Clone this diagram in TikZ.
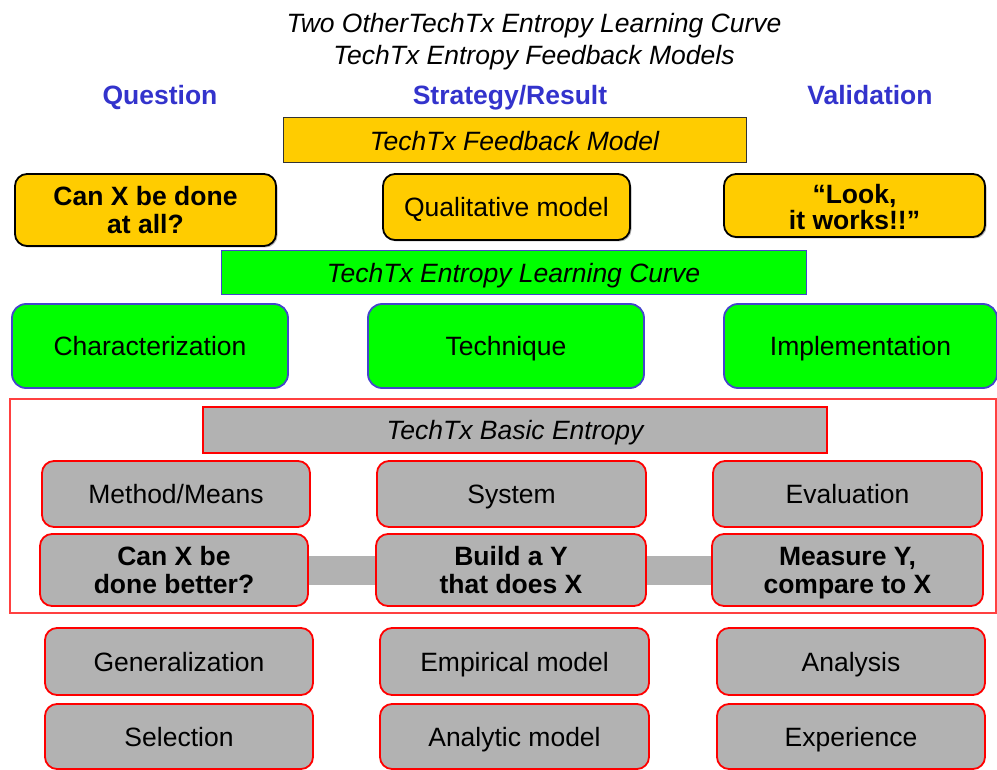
\documentclass[tikz,border=0pt]{standalone}
\usepackage{fontspec}
\setmainfont{Liberation Sans}
\usetikzlibrary{shadows}
\definecolor{fbyellow}{RGB}{255,204,0}
\definecolor{lcgreen}{RGB}{0,255,0}
\definecolor{lcblue}{RGB}{68,68,204}
\definecolor{hdblue}{RGB}{51,51,204}
\definecolor{begray}{RGB}{178,178,178}
\tikzstyle{txt} = [font=\fontsize{26.5}{28}\selectfont, align=center, inner sep=0pt, text depth=0pt]
\tikzstyle{heading} = [txt, 
font=\fontsize{26.5}{28}\selectfont\bfseries, 
text=hdblue, anchor=base]
\tikzstyle{fbbar} = [txt, rectangle, 
draw=black!80, line width=1pt, 
fill=fbyellow, 
font=\fontsize{26.5}{28}\selectfont\itshape]
\tikzstyle{fbbox} = [txt, rectangle, rounded corners=12pt, 
draw=black, line width=1.8pt, 
fill=fbyellow, 
drop shadow={shadow xshift=1.5pt, shadow yshift=-1.5pt, fill=black!55}]
\tikzstyle{lcbar} = [txt, rectangle, 
draw=lcblue, line width=1pt, 
fill=lcgreen, 
font=\fontsize{26.5}{28}\selectfont\itshape]
\tikzstyle{lcbox} = [txt, rectangle, rounded corners=14pt, 
draw=lcblue, line width=1.8pt, 
fill=lcgreen]
\tikzstyle{bebar} = [txt, rectangle, 
draw=red, line width=1.5pt, 
fill=begray, 
font=\fontsize{26.5}{28}\selectfont\itshape]
\tikzstyle{bebox} = [txt, rectangle, rounded corners=12pt, 
draw=red, line width=1.8pt, 
fill=begray]
\tikzstyle{band} = [begray, line width=29pt]
\begin{document}
\begin{tikzpicture}[x=1pt, y=-1pt]
  \useasboundingbox (0,0) rectangle (997,770);
  \node (title) [txt, font=\fontsize{26.5}{32}\selectfont\itshape] at (534,39) {Two OtherTechTx Entropy Learning Curve\\TechTx Entropy Feedback Models};
  \node (hq) [heading] at (160,105) {Question};
  \node (hs) [heading] at (510,105) {Strategy/Result};
  \node (hv) [heading] at (870,105) {Validation};

  % feedback model
  \node (fbm) [fbbar, minimum width=463, minimum height=45] at (514.5,140.5) {TechTx Feedback Model};
  \node (fbq) [fbbox, minimum width=261, minimum height=72, font=\fontsize{26.5}{28}\selectfont\bfseries] at (145.5,210) {Can X be done\\at all?};
  \node (fbs) [fbbox, minimum width=247, minimum height=66] at (506.5,207) {Qualitative model};
  \node (fbv) [fbbox, minimum width=261, minimum height=63, font=\fontsize{26.5}{26}\selectfont\bfseries] at (854.5,205.5) {\raisebox{-3.5pt}{``Look,}\\\raisebox{-3.5pt}{it works!!''}};

  % learning curve
  \node (lcm) [lcbar, minimum width=585, minimum height=44] at (513.5,273) {TechTx Entropy Learning Curve};
  \node (lcq) [lcbox, minimum width=276, minimum height=84] at (150,346) {Characterization};
  \node (lcs) [lcbox, minimum width=276, minimum height=84] at (506,346) {Technique};
  \node (lcv) [lcbox, minimum width=273, minimum height=84] at (860.5,346) {Implementation};

  % basic entropy
  \draw [red!75, line width=1.2pt] (10,399) rectangle (996,613);
  \node (bem) [bebar, minimum width=624, minimum height=46] at (515,430) {TechTx Basic Entropy};
  \node (meq) [bebox, minimum width=268, minimum height=66] at (176,494) {Method/Means};
  \node (mes) [bebox, minimum width=269, minimum height=66] at (511.5,494) {System};
  \node (mev) [bebox, minimum width=269, minimum height=66] at (847.5,494) {Evaluation};
  \node (beq) [bebox, minimum width=268, minimum height=72, font=\fontsize{26.5}{28}\selectfont\bfseries] at (174,570) {Can X be\\done better?};
  \node (bes) [bebox, minimum width=270, minimum height=72, font=\fontsize{26.5}{28}\selectfont\bfseries] at (511,570) {Build a Y\\that does X};
  \node (bev) [bebox, minimum width=271, minimum height=72, font=\fontsize{26.5}{28}\selectfont\bfseries] at (847.5,570) {Measure Y,\\compare to X};
  \draw [band] (beq) -- (bes);
  \draw [band] (bes) -- (bev);

  % bottom rows
  \node (gnq) [bebox, minimum width=268, minimum height=67] at (179,661.5) {Generalization};
  \node (gns) [bebox, minimum width=269, minimum height=67] at (514.5,661.5) {Empirical model};
  \node (gnv) [bebox, minimum width=268, minimum height=67] at (851,661.5) {Analysis};
  \node (slq) [bebox, minimum width=268, minimum height=65] at (179,736.5) {Selection};
  \node (sls) [bebox, minimum width=269, minimum height=65] at (514.5,736.5) {Analytic model};
  \node (slv) [bebox, minimum width=268, minimum height=65] at (851,736.5) {Experience};
\end{tikzpicture}
\end{document}
